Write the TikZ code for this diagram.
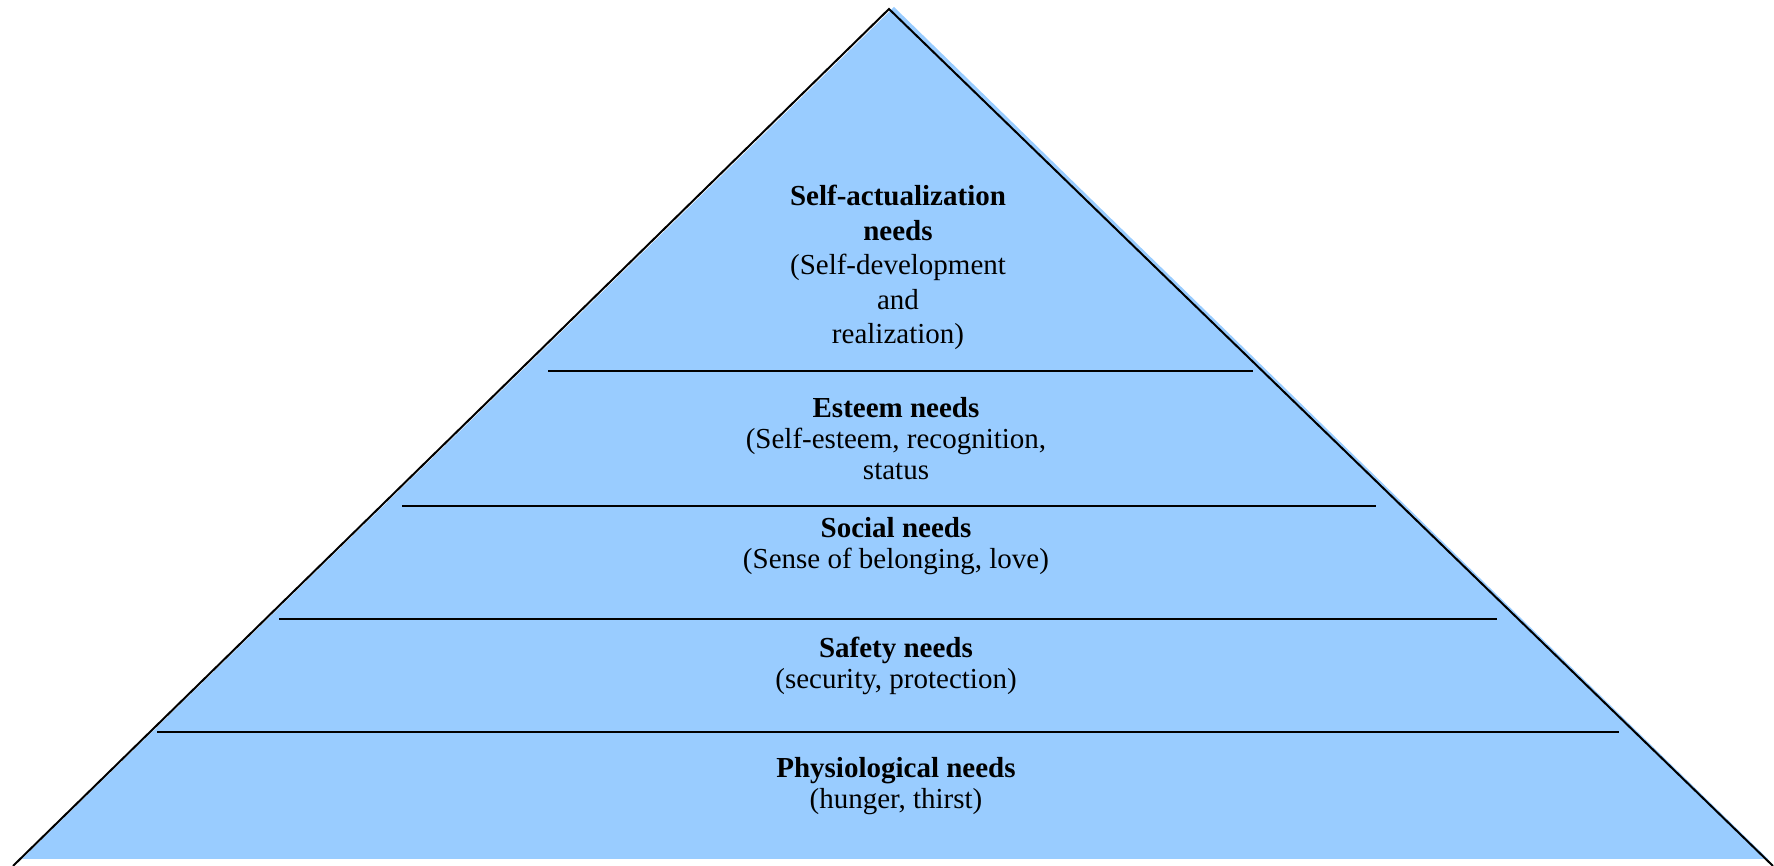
\documentclass[tikz,border=0pt]{standalone}
\usepackage{fontspec}
\setmainfont{Liberation Serif}
\usepackage{tikz}
\definecolor{pyrblue}{HTML}{99CCFF}

\begin{document}
\begin{tikzpicture}[x = 0.5pt, y = 0.5pt, line width = 1pt, every node/.style = {align = center, inner sep = 0pt, font = \fontsize{14.5}{15.5}\selectfont}]
    \useasboundingbox (0, 0) rectangle (1774, 866);
    \coordinate (bl) at (13, 0);
    \coordinate (apex) at (889, 857);
    \coordinate (br) at (1773, 0);
    \fill[pyrblue] (22, 7) -- (894, 859) -- (1768, 7) -- cycle;
    \draw (bl) -- (apex) -- (br);
    % level separators
    \coordinate (l1a) at (548, 495);   \coordinate (l1b) at (1253, 495);
    \coordinate (l2a) at (402, 360);   \coordinate (l2b) at (1376, 360);
    \coordinate (l3a) at (279, 247);   \coordinate (l3b) at (1497, 247);
    \coordinate (l4a) at (157, 134);   \coordinate (l4b) at (1619, 134);
    \draw (l1a) -- (l1b);
    \draw (l2a) -- (l2b);
    \draw (l3a) -- (l3b);
    \draw (l4a) -- (l4b);
    \node[font = \fontsize{14.5}{17.25}\selectfont] (selfact) at (898, 598.5) {\textbf{Self-actualization}\\ \textbf{needs}\\ (Self-development\\ and\\ realization)};
    \node (esteem) at (896, 427)   {\textbf{Esteem needs}\\ (Self-esteem, recognition,\\ status};
    \node (social) at (896, 320)   {\textbf{Social needs}\\ (Sense of belonging, love)};
    \node (safety) at (896, 200)   {\textbf{Safety needs}\\ (security, protection)};
    \node (physio) at (896, 79.5)  {\textbf{Physiological needs}\\ (hunger, thirst)};
\end{tikzpicture}
\end{document}
